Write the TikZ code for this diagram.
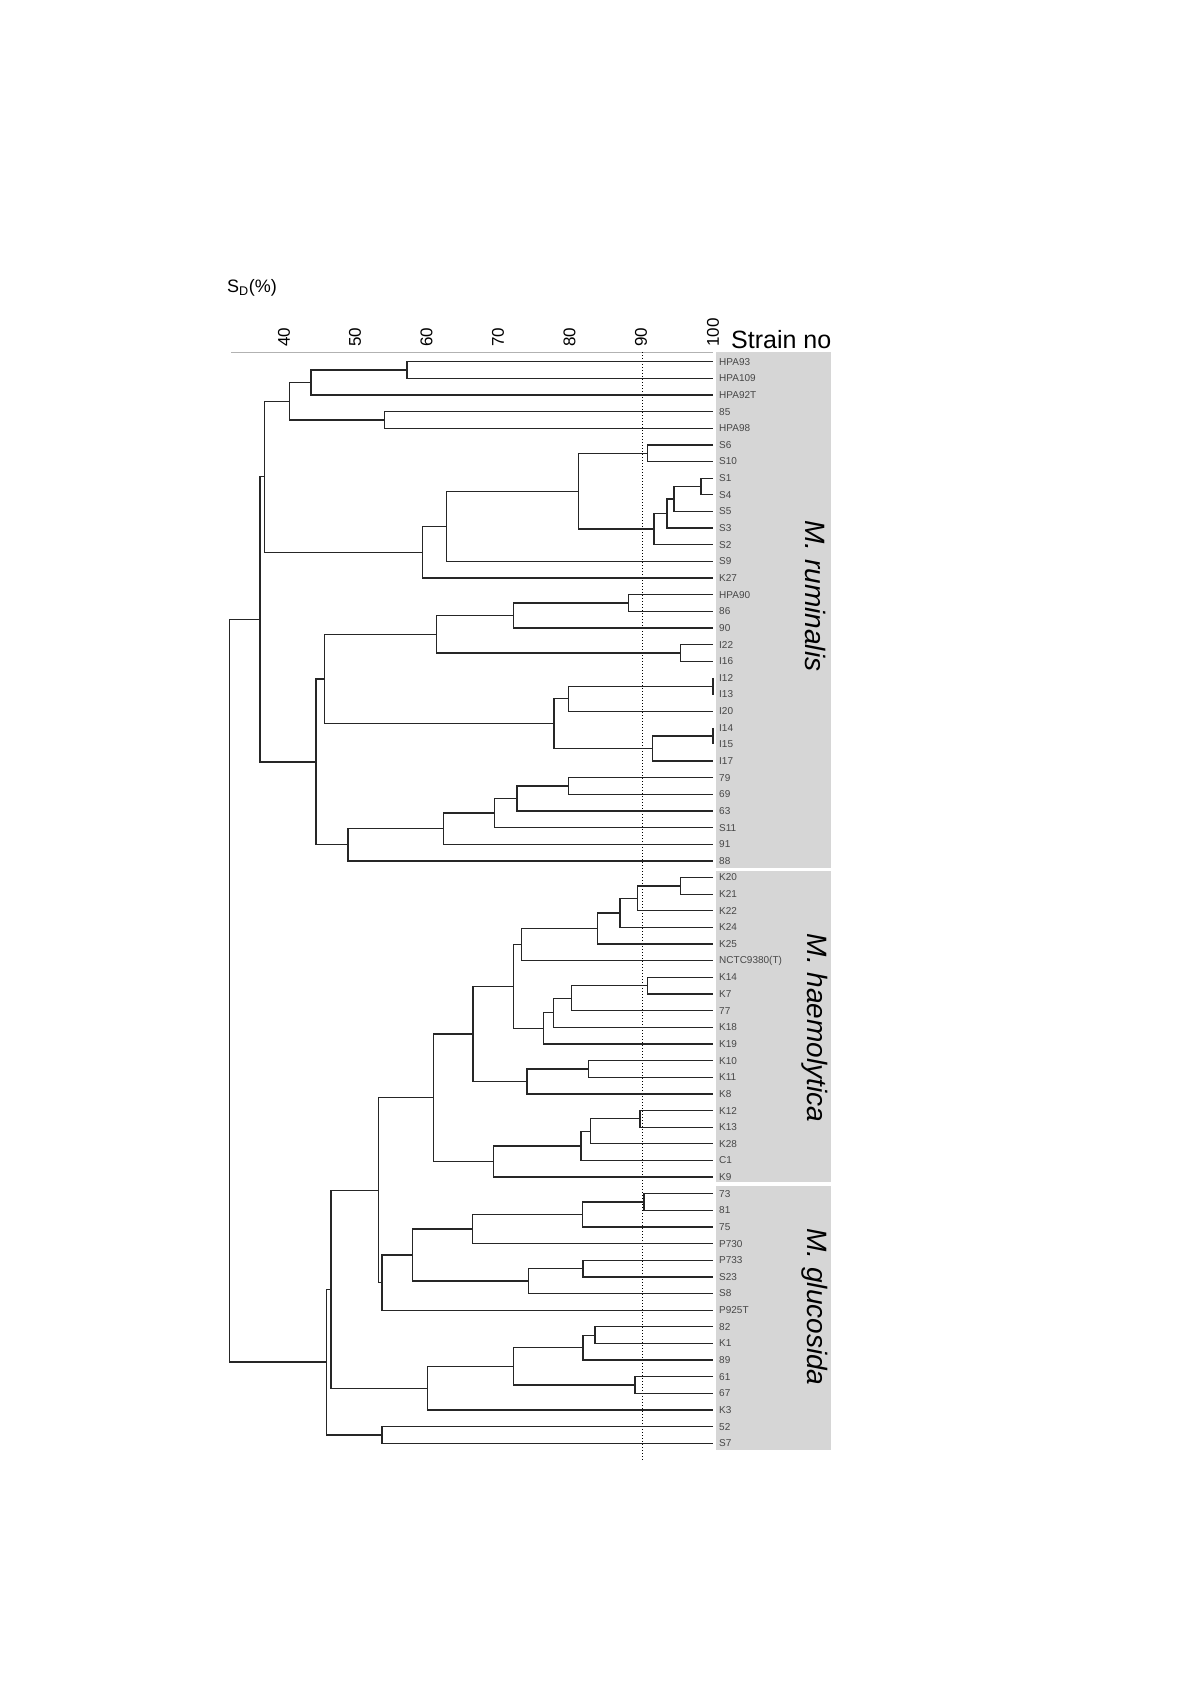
\documentclass[tikz,border=0pt]{standalone}
\usepackage{fontspec}
\setmainfont{Liberation Sans}
\usetikzlibrary{calc}
\tikzset{
  br/.style={line width=1.3pt, black!85, line join=miter},
  leaf/.style={anchor=west, inner sep=0pt, font=\fontsize{10}{10}\selectfont, text=black!72},
  tick/.style={rotate=90, anchor=west, inner sep=0pt, font=\fontsize{17}{17}\selectfont},
  species/.style={rotate=-90, inner sep=0pt, font=\fontsize{28}{28}\selectfont\itshape},
  shadebox/.style={fill=black!16, draw=none},
}
\newcommand\JoinAt[4]{%
  \coordinate (#1m) at ($(#3)!0.5!(#4)$);
  \coordinate (#1) at (perpendicular cs: horizontal line through={(#1m)}, vertical line through={(#2,0)});
  \draw[br] (#3) -| (#1) |- (#4);
}
\begin{document}
\begin{tikzpicture}[x=1pt, y=-1pt]
\useasboundingbox (0,0) rectangle (1200,1698);
% shaded strain boxes
\fill[shadebox] (716,352) rectangle (831,868);
\fill[shadebox] (716,871) rectangle (831,1182);
\fill[shadebox] (716,1186) rectangle (831,1450);
% top rule and 90% line
\coordinate (ruleL) at (231,352);
\coordinate (ruleR) at (713,352);
\draw[black!30, line width=0.8pt] (ruleL) -- (ruleR);
\coordinate (dotT) at (642,352);
\coordinate (dotB) at (642,1460);
\draw[dotted, line width=1pt] (dotT) -- (dotB);
% axis
\node[anchor=west, inner sep=0pt, font=\fontsize{18}{18}\selectfont] (sd) at (227,288) {S\textsubscript{D}(\%)};
\foreach \s/\xx in {40/284,50/355,60/426.5,70/498,80/569.5,90/641,100/713}
  \node[tick] (tk\s) at (\xx,347) {\s};
\node[anchor=base west, inner sep=0pt, font=\fontsize{25}{25}\selectfont] (strain) at (731,348) {Strain no};
% species
\node[species] (spR) at (815,596) {M. ruminalis};
\node[species] (spH) at (815,1028) {M. haemolytica};
\node[species] (spG) at (815,1307) {M. glucosida};
% tree
\begin{scope}[x=7.1pt, y=-16.64pt, xshift=3pt, yshift=-361.7pt]
\foreach \i/\t in {0/HPA93,1/HPA109,2/HPA92T,3/85,4/HPA98,5/S6,6/S10,7/S1,8/S4,9/S5,10/S3,11/S2,12/S9,13/K27,14/HPA90,15/86,16/90,17/I22,18/I16,19/I12,20/I13,21/I20,22/I14,23/I15,24/I17,25/79,26/69,27/63,28/S11,29/91,30/88,31/K20,32/K21,33/K22,34/K24,35/K25,36/NCTC9380(T),37/K14,38/K7,39/77,40/K18,41/K19,42/K10,43/K11,44/K8,45/K12,46/K13,47/K28,48/C1,49/K9,50/73,51/81,52/75,53/P730,54/P733,55/S23,56/S8,57/P925T,58/82,59/K1,60/89,61/61,62/67,63/K3,64/52,65/S7}{
  \coordinate (L\i) at (100,\i);
  \node[leaf, xshift=6pt] (T\i) at (L\i) {\t};
}
\JoinAt{a1}{56.9}{L0}{L1}
\JoinAt{a2}{43.4}{a1}{L2}
\JoinAt{a3}{53.7}{L3}{L4}
\JoinAt{a4}{40.4}{a2}{a3}
\JoinAt{b1}{90.8}{L5}{L6}
\JoinAt{b2}{98.3}{L7}{L8}
\JoinAt{b3}{94.5}{b2}{L9}
\JoinAt{b4}{93.5}{b3}{L10}
\JoinAt{b5}{91.7}{b4}{L11}
\JoinAt{b6}{81.1}{b1}{b5}
\JoinAt{b7}{62.5}{b6}{L12}
\JoinAt{b8}{59.1}{b7}{L13}
\JoinAt{c1}{36.8}{a4}{b8}
\JoinAt{d1}{88.1}{L14}{L15}
\JoinAt{d2}{71.9}{d1}{L16}
\JoinAt{d3}{95.4}{L17}{L18}
\JoinAt{d4}{61.1}{d2}{d3}
\JoinAt{e1}{100}{L19}{L20}
\JoinAt{e2}{79.6}{e1}{L21}
\JoinAt{e3}{100}{L22}{L23}
\JoinAt{e4}{91.5}{e3}{L24}
\JoinAt{e5}{77.6}{e2}{e4}
\JoinAt{f1}{45.3}{d4}{e5}
\JoinAt{g1}{79.6}{L25}{L26}
\JoinAt{g2}{72.4}{g1}{L27}
\JoinAt{g3}{69.2}{g2}{L28}
\JoinAt{g4}{62.0}{g3}{L29}
\JoinAt{g5}{48.6}{g4}{L30}
\JoinAt{h1}{44.1}{f1}{g5}
\JoinAt{R1}{36.2}{c1}{h1}
\JoinAt{k1}{95.4}{L31}{L32}
\JoinAt{k2}{89.4}{k1}{L33}
\JoinAt{k3}{86.9}{k2}{L34}
\JoinAt{k4}{83.7}{k3}{L35}
\JoinAt{k5}{73.0}{k4}{L36}
\JoinAt{m1}{90.8}{L37}{L38}
\JoinAt{m2}{80.1}{m1}{L39}
\JoinAt{m3}{77.5}{m2}{L40}
\JoinAt{m4}{76.1}{m3}{L41}
\JoinAt{n1}{71.9}{k5}{m4}
\JoinAt{p1}{82.5}{L42}{L43}
\JoinAt{p2}{73.8}{p1}{L44}
\JoinAt{n2}{66.2}{n1}{p2}
\JoinAt{q1}{89.7}{L45}{L46}
\JoinAt{q2}{82.7}{q1}{L47}
\JoinAt{q3}{81.4}{q2}{L48}
\JoinAt{q4}{69.1}{q3}{L49}
\JoinAt{n3}{60.6}{n2}{q4}
\JoinAt{r1}{90.3}{L50}{L51}
\JoinAt{r2}{81.6}{r1}{L52}
\JoinAt{r3}{66.1}{r2}{L53}
\JoinAt{t1}{81.7}{L54}{L55}
\JoinAt{t2}{74.0}{t1}{L56}
\JoinAt{r4}{57.7}{r3}{t2}
\JoinAt{r5}{53.4}{r4}{L57}
\JoinAt{n4}{52.9}{n3}{r5}
\JoinAt{u1}{83.4}{L58}{L59}
\JoinAt{u2}{81.7}{u1}{L60}
\JoinAt{u3}{89.0}{L61}{L62}
\JoinAt{u4}{71.9}{u2}{u3}
\JoinAt{u5}{59.8}{u4}{L63}
\JoinAt{n5}{46.2}{n4}{u5}
\JoinAt{v1}{53.4}{L64}{L65}
\JoinAt{n6}{45.6}{n5}{v1}
\JoinAt{root}{31.9}{R1}{n6}
\end{scope}
\end{tikzpicture}
\end{document}
